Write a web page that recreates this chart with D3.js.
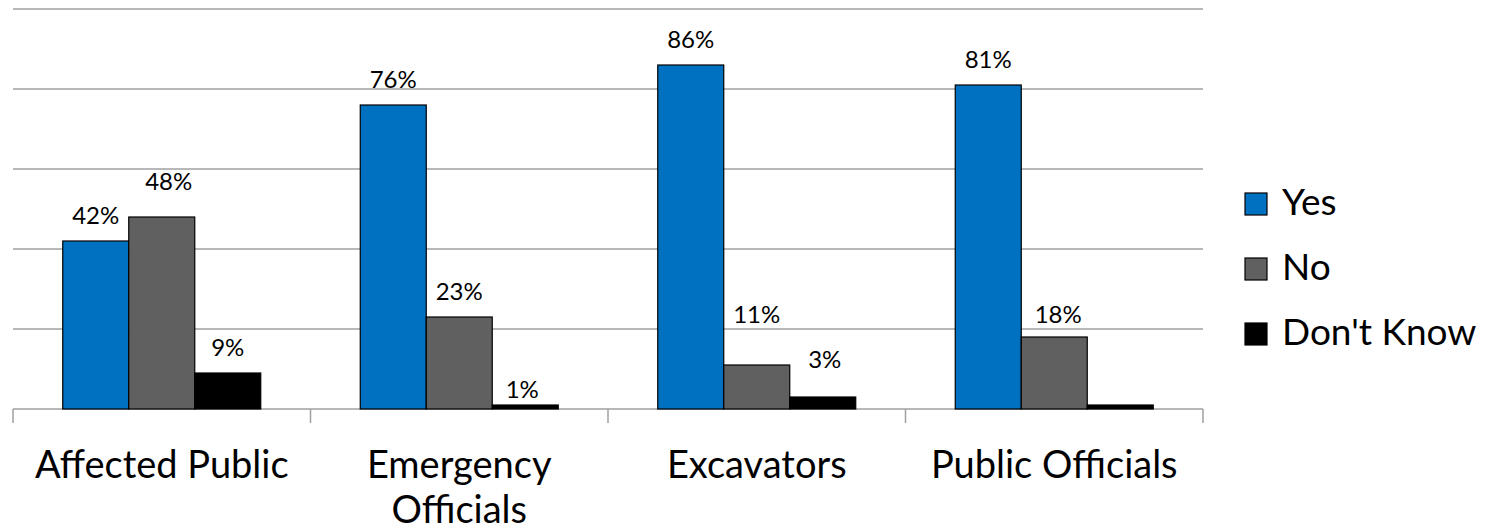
<!DOCTYPE html>
<html>
<head>
<meta charset="utf-8">
<script src="https://cdn.jsdelivr.net/npm/d3@7/dist/d3.min.js"></script>
<style>
  html, body { margin: 0; padding: 0; background: #ffffff; }
  svg { display: block; font-family: Lato, "Open Sans", "Liberation Sans", sans-serif; }
</style>
</head>
<body>
<svg id="chart" width="1485" height="530"></svg>
<script>
// Survey responses by respondent group (percent)
const categories = ["Affected Public", "Emergency Officials", "Excavators", "Public Officials"];
const seriesNames = ["Yes", "No", "Don't Know"];
const yesValues = [42, 76, 86, 81];
const noValues = [48, 23, 11, 18];
const dontKnowValues = [9, 1, 3, 1];
// Printed value labels (null = not printed)
const yesLabels = ["42%", "76%", "86%", "81%"];
const noLabels = ["48%", "23%", "11%", "18%"];
const dontKnowLabels = ["9%", "1%", "3%", null];
const yTicks = [0, 20, 40, 60, 80, 100];

// Hand-placed label nudges [dx, dy] per series, per category
const labelNudges = [
  [[0, 0], [0, 0], [0, 0], [0, 0]],
  [[7, -10], [0, 0], [0, -25], [4, 3]],
  [[0, 0], [-3, 10], [2, -12], [0, 0]]
];

const seriesValues = [yesValues, noValues, dontKnowValues];
const seriesLabels = [yesLabels, noLabels, dontKnowLabels];
const colors = ["#0070C0", "#606060", "#000000"];

const svg = d3.select("#chart");
const plotLeft = 13, plotRight = 1203, plotTop = 9, plotBottom = 409;

const x = d3.scaleBand().domain(categories).range([plotLeft, plotRight]).paddingInner(0).paddingOuter(0);
const xSub = d3.scaleBand().domain(seriesNames).range([0, x.bandwidth()]).paddingInner(0).paddingOuter(0.754);
const y = d3.scaleLinear().domain([0, 100]).range([plotBottom, plotTop]);

// Horizontal gridlines
svg.append("g").selectAll("line")
  .data(yTicks.filter(t => t > 0))
  .join("line")
  .attr("x1", plotLeft).attr("x2", plotRight)
  .attr("y1", d => y(d)).attr("y2", d => y(d))
  .attr("stroke", "#a0a0a0").attr("stroke-width", 1.5);

// Category axis with ticks between groups
const xAxisG = svg.append("g");
xAxisG.append("line")
  .attr("x1", plotLeft).attr("x2", plotRight)
  .attr("y1", y(0)).attr("y2", y(0))
  .attr("stroke", "#a0a0a0").attr("stroke-width", 1.5);
const boundaries = categories.map(c => x(c)).concat([x(categories[categories.length - 1]) + x.bandwidth()]);
xAxisG.selectAll("line.tick")
  .data(boundaries)
  .join("line").attr("class", "tick")
  .attr("x1", d => d).attr("x2", d => d)
  .attr("y1", y(0)).attr("y2", y(0) + 14)
  .attr("stroke", "#a0a0a0").attr("stroke-width", 1.5);

// Bars
const rows = [];
categories.forEach((c, ci) => {
  seriesNames.forEach((s, si) => {
    rows.push({ c, ci, s, si, v: seriesValues[si][ci], label: seriesLabels[si][ci], nudge: labelNudges[si][ci] });
  });
});

svg.append("g").selectAll("rect")
  .data(rows)
  .join("rect")
  .attr("x", d => x(d.c) + xSub(d.s))
  .attr("y", d => y(d.v))
  .attr("width", xSub.bandwidth())
  .attr("height", d => y(0) - y(d.v))
  .attr("fill", d => colors[d.si])
  .attr("stroke", "#000").attr("stroke-width", 1.2);

// Value labels
svg.append("g").selectAll("text")
  .data(rows.filter(d => d.label))
  .join("text")
  .attr("x", d => x(d.c) + xSub(d.s) + xSub.bandwidth() / 2 + d.nudge[0])
  .attr("y", d => y(d.v) - 17 + d.nudge[1])
  .attr("text-anchor", "middle")
  .attr("font-size", 24)
  .attr("fill", "#000")
  .text(d => d.label);

// Category labels (wrapped to the band width)
const catG = svg.append("g");
categories.forEach(c => {
  const cx = x(c) + x.bandwidth() / 2;
  const t = catG.append("text")
    .attr("x", cx)
    .attr("y", 478)
    .attr("text-anchor", "middle")
    .attr("font-size", 38)
    .attr("fill", "#000");
  const words = c.split(" ");
  let line = [];
  let tspan = t.append("tspan").attr("x", cx).attr("dy", 0);
  words.forEach(w => {
    line.push(w);
    tspan.text(line.join(" "));
    if (tspan.node().getComputedTextLength() > x.bandwidth() - 30 && line.length > 1) {
      line.pop();
      tspan.text(line.join(" "));
      line = [w];
      tspan = t.append("tspan").attr("x", cx).attr("dy", 45).text(w);
    }
  });
});

// Legend
const legend = svg.append("g").attr("transform", "translate(1245, 0)");
seriesNames.forEach((s, i) => {
  const cy = 204 + i * 65;
  legend.append("rect")
    .attr("x", 0).attr("y", cy - 11)
    .attr("width", 22).attr("height", 22)
    .attr("fill", colors[i])
    .attr("stroke", "#000").attr("stroke-width", 1.2);
  legend.append("text")
    .attr("x", 37).attr("y", cy + 11)
    .attr("font-size", 37)
    .attr("fill", "#000")
    .text(s);
});
</script>
</body>
</html>
